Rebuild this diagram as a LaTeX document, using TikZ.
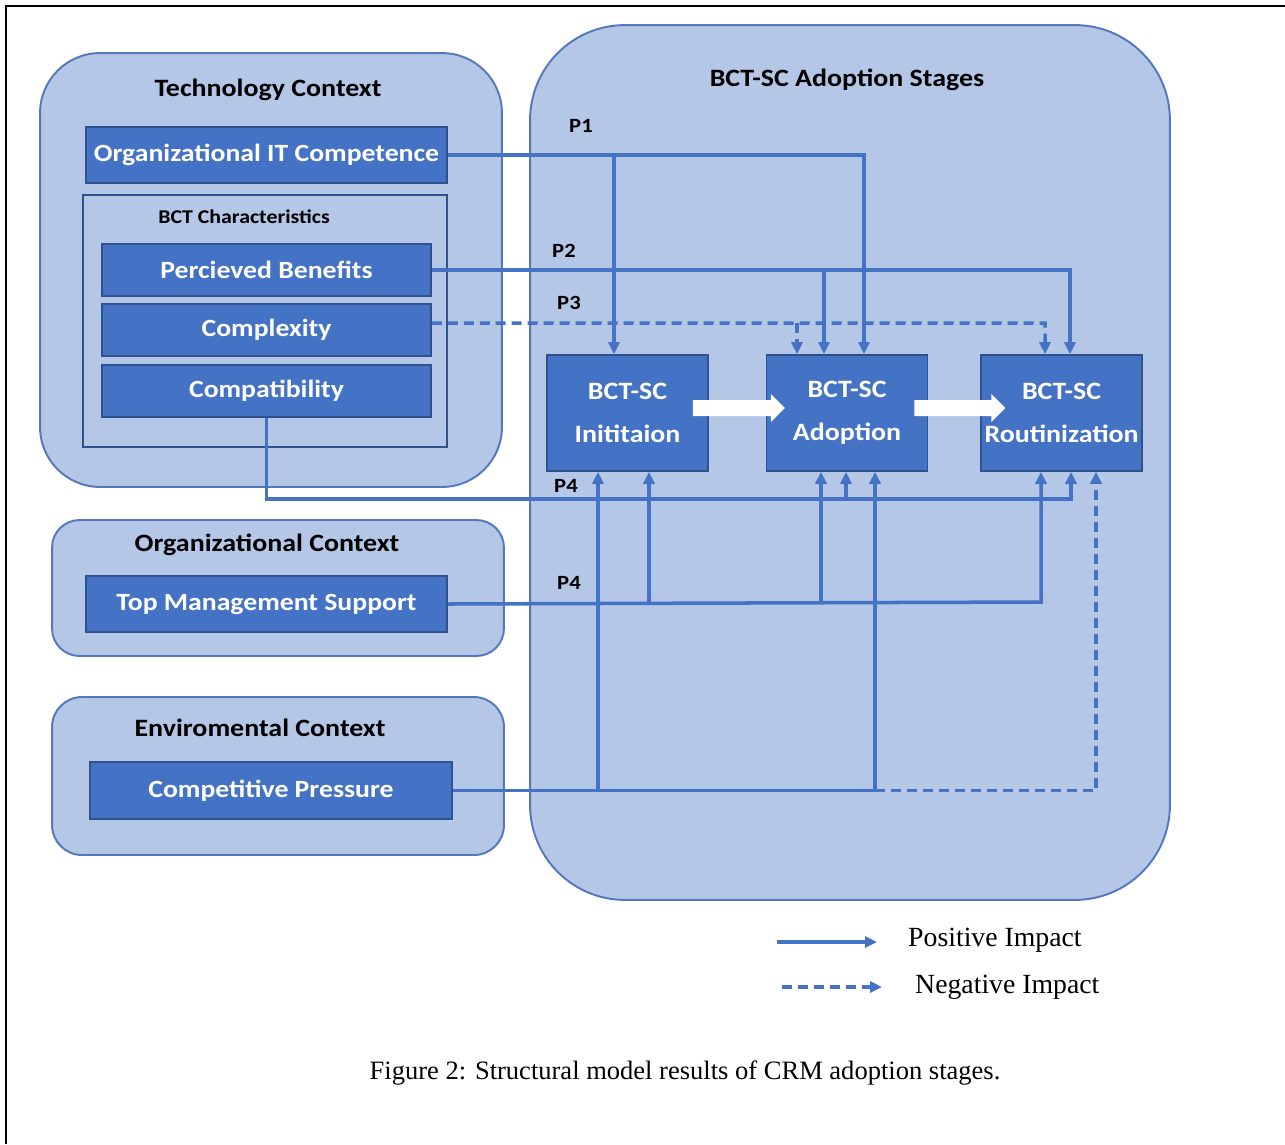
\documentclass[tikz,border=0pt]{standalone}
\usepackage{fontspec}
\setmainfont[FakeStretch=1.12]{Carlito}
\newfontfamily\legendfont{Liberation Serif}
\usetikzlibrary{arrows.meta,positioning}
\definecolor{ctxfill}{HTML}{B4C7E7}
\definecolor{ctxline}{HTML}{5577BB}
\definecolor{boxfill}{HTML}{4472C4}
\definecolor{boxline}{HTML}{2F528F}
\definecolor{linkblue}{HTML}{4472C4}

\begin{document}
\begin{tikzpicture}[x=0.02cm, y=-0.02cm,
		ctx/.style={draw=ctxline, line width=1.1pt, fill=ctxfill, inner sep=0pt},
		factor/.style={draw=boxline, line width=0.9pt, fill=boxfill, text=white, inner sep=0pt, font=\bfseries\fontsize{14.1}{16}\selectfont},
		stage/.style={factor, minimum width=3.22cm, minimum height=2.32cm, align=center, font=\bfseries\fontsize{14.2}{24.5}\selectfont},
		title/.style={font=\bfseries\fontsize{14.2}{16}\selectfont},
		plabel/.style={font=\bfseries\fontsize{11.5}{13}\selectfont},
		legend/.style={anchor=west, font=\legendfont\fontsize{15.8}{18}\selectfont},
		link/.style={draw=linkblue, line width=2pt},
		posarrow/.style={link, -{Triangle[length=0.24cm, width=0.22cm]}},
		negarrow/.style={posarrow, dash pattern=on 0.2cm off 0.12cm}]
				\useasboundingbox (0,0) rectangle (1285,1144);
				\draw[line width=1.4pt] (6,1144) -- (6,6) -- (1285,6);

				% containers
				\node[ctx, rounded corners=1.9cm, minimum width=12.8cm, minimum height=17.5cm] (stages) at (850,462.5) {};
				\node[ctx, rounded corners=1.2cm, minimum width=9.24cm, minimum height=8.68cm] (tech) at (271,270) {};
				\node[ctx, rounded corners=0.55cm, minimum width=9.04cm, minimum height=2.72cm] (org) at (278,588) {};
				\node[ctx, rounded corners=0.6cm, minimum width=9.04cm, minimum height=3.16cm] (env) at (278,776) {};
				\node[draw=boxline, line width=0.8pt, minimum width=7.28cm, minimum height=5.04cm] (chars) at (265,321) {};

				\node[title] (stagesT) at (847,80) {BCT-SC Adoption Stages};
				\node[title] (techT) at (268,90) {Technology Context};
				\node[font=\bfseries\fontsize{11.1}{13}\selectfont] (charsT) at (244,217) {BCT Characteristics};
				\node[title] (orgT) at (267,545) {Organizational Context};
				\node[title] (envT) at (260,728) {Enviromental Context};

				% factors
				\node[factor, minimum width=7.22cm, minimum height=1.12cm] (oit) at (266.5,155) {Organizational IT Competence};
				\node[factor, minimum width=6.58cm, minimum height=1.04cm] (pb) at (266.5,270) {Percieved Benefits};
				\node[factor, minimum width=6.58cm, minimum height=1.04cm] (cx) at (266.5,330) {Complexity};
				\node[factor, minimum width=6.58cm, minimum height=1.04cm] (cp) at (266.5,391) {Compatibility};
				\node[factor, minimum width=7.22cm, minimum height=1.12cm] (tms) at (266.5,604) {Top Management Support};
				\node[factor, minimum width=7.24cm, minimum height=1.14cm] (cpp) at (271,790.5) {Competitive Pressure};

				% stages
				\node[stage] (init) at (627.5,413) {BCT-SC\\Inititaion};
				\node[stage, right=1.14cm of init] (adop) {BCT-SC\\Adoption};
				\node[stage, right=1.04cm of adop] (rout) {BCT-SC\\Routinization};
				\fill[white] ([xshift=-0.32cm, yshift=0.26cm]init.east) -- ++(78,0) -- ++(0,-6) -- ++(14,14) -- ++(-14,14) -- ++(0,-6) -- ++(-78,0) -- cycle;
				\fill[white] ([xshift=-0.28cm, yshift=0.26cm]adop.east) -- ++(77,0) -- ++(0,-6) -- ++(14,14) -- ++(-14,14) -- ++(0,-6) -- ++(-77,0) -- cycle;

				% P1
				\coordinate (p1a) at (614,155);
				\coordinate (p1b) at (864,155);
				\draw[posarrow] (oit.east) -- (p1b) -- (p1b |- adop.north);
				\draw[posarrow] (p1a) -- (p1a |- init.north);
				% P2
				\coordinate (p2a) at (824,270);
				\coordinate (p2b) at (1070,270);
				\draw[posarrow] (pb.east) -- (p2b) -- (p2b |- rout.north);
				\draw[posarrow] (p2a) -- (p2a |- adop.north);
				% P3
				\coordinate (p3a) at (797,323);
				\coordinate (p3b) at (1045,323);
				\draw[negarrow] ([yshift=0.14cm]cx.east) -- (p3b) -- (p3b |- rout.north);
				\draw[negarrow] (p3a) -- (p3a |- adop.north);
				% P4
				\coordinate (p4a) at (846,499);
				\coordinate (p4b) at (1071,499);
				\draw[posarrow] (cp.south) |- (p4b) -- (p4b |- rout.south);
				\draw[posarrow] (p4a) -- (p4a |- adop.south);
				\coordinate (p5a) at (649,602);
				\coordinate (p5b) at (821,602);
				\coordinate (p5c) at (1041,602);
				\draw[posarrow] (tms.east) -- (p5c) -- (p5c |- rout.south);
				\draw[posarrow] (p5a) -- (p5a |- init.south);
				\draw[posarrow] (p5b) -- (p5b |- adop.south);
				% pressure
				\coordinate (p6a) at (598,790.5);
				\coordinate (p6b) at (875,790.5);
				\coordinate (p6c) at (1096,790.5);
				\draw[link] (cpp.east) -- (p6b);
				\draw[posarrow] (p6a) -- (p6a |- init.south);
				\draw[posarrow] (p6b) -- (p6b |- adop.south);
				\draw[negarrow] (p6b) -- (p6c) -- (p6c |- rout.south);

				\node[plabel] (p1) at (581,126) {P1};
				\node[plabel] (p2) at (564,251) {P2};
				\node[plabel] (p3) at (569,303) {P3};
				\node[plabel] (p4) at (566,486) {P4};
				\node[plabel] (p5) at (569,583) {P4};

				% legend
				\coordinate (posA) at (777,942);
				\coordinate (posB) at (877,942);
				\draw[posarrow] (posA) -- (posB);
				\node[legend] (posT) at (902,940) {Positive Impact};
				\coordinate (negA) at (782,987);
				\coordinate (negB) at (882,987);
				\draw[negarrow] (negA) -- (negB);
				\node[legend] (negT) at (909,987) {Negative Impact};

				\node[font=\legendfont\fontsize{15.1}{17}\selectfont] (caption) at (685,1073) {Figure 2: Structural model results of CRM adoption stages.};
			\end{tikzpicture}
\end{document}
